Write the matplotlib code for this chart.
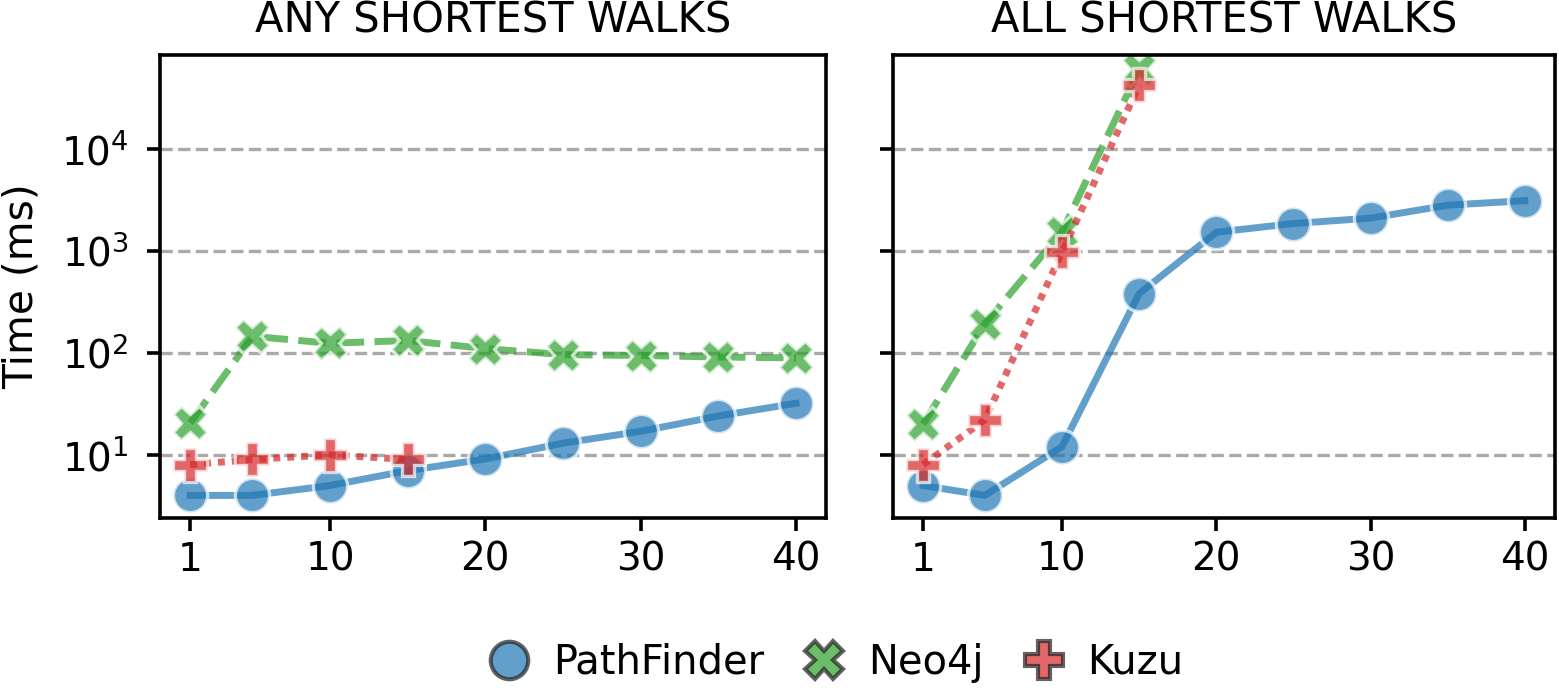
import matplotlib
matplotlib.use("Agg")
import matplotlib.pyplot as plt
from matplotlib.lines import Line2D

# path lengths on the x axis
lengths = [1, 5, 10, 15, 20, 25, 30, 35, 40]
kuzu_lengths = [1, 5, 10, 15]

# ANY SHORTEST WALKS (ms)
any_pathfinder = [4, 4, 5, 7, 9.1, 13, 17, 24, 32]
any_neo4j = [20.5, 145, 124, 132, 110, 96, 94, 91, 89]
any_kuzu = [8, 9, 10, 9]

# ALL SHORTEST WALKS (ms)
all_pathfinder = [5, 4, 12, 380, 1520, 1850, 2090, 2800, 3100]
all_neo4j = [20, 192, 1530, 60000]
all_kuzu = [8, 22, 965, 42000]

titles = ["ANY SHORTEST WALKS", "ALL SHORTEST WALKS"]
series_names = ["PathFinder", "Neo4j", "Kuzu"]
colors = ["tab:blue", "tab:green", "tab:red"]
markers = ["o", "X", "P"]
dashes = [(None, None), (4, 1.5), (1, 1)]

plt.rcParams["font.family"] = "DejaVu Sans"
plt.rcParams["font.size"] = 13

fig = plt.figure(figsize=(7.795, 3.46), dpi=200)
ax1 = fig.add_axes([0.1026, 0.2514, 0.4274, 0.6691])
ax2 = fig.add_axes([0.5728, 0.2514, 0.4246, 0.6691], sharey=ax1)

panels = [
    (ax1, [(lengths, any_pathfinder), (lengths, any_neo4j), (kuzu_lengths, any_kuzu)]),
    (ax2, [(lengths, all_pathfinder), (kuzu_lengths, all_neo4j), (kuzu_lengths, all_kuzu)]),
]

for i, (ax, data) in enumerate(panels):
    for (x, y), c, m, d in zip(data, colors, markers, dashes):
        line, = ax.plot(x, y, color=c, marker=m, markersize=12.3, lw=2.5,
                        alpha=0.7, markeredgecolor="white", markeredgewidth=1.2)
        if d[0] is not None:
            line.set_dashes(d)
    ax.set_yscale("log")
    ax.set_ylim(2.4, 83000)
    ax.set_xlim(-0.95, 41.95)
    ax.set_xticks([1, 10, 20, 30, 40])
    ax.set_yticks([10, 100, 1000, 10000])
    ax.minorticks_off()
    ax.grid(axis="y", color="#aaaaaa", linestyle="--", lw=1.2)
    ax.set_axisbelow(True)
    ax.set_title(titles[i], fontsize=15, pad=8)
    ax.tick_params(width=1.3, length=4.7, labelsize=14)
    ax.tick_params(axis="y", pad=6.5)
    for s in ax.spines.values():
        s.set_linewidth(1.3)

ax1.set_ylabel("Time (ms)", fontsize=14.7, labelpad=7)
ax2.tick_params(labelleft=False)

handles = [Line2D([], [], color=c, marker=m, linestyle="none", markersize=13.5,
                  alpha=0.7, markeredgecolor="#222222", markeredgewidth=1.5)
           for c, m in zip(colors, markers)]
fig.legend(handles, series_names, loc="center", bbox_to_anchor=(0.530, 0.042),
           ncol=3, frameon=False, fontsize=14.4, handletextpad=0.1, columnspacing=0.5)

fig.savefig("out.png", dpi=200)
